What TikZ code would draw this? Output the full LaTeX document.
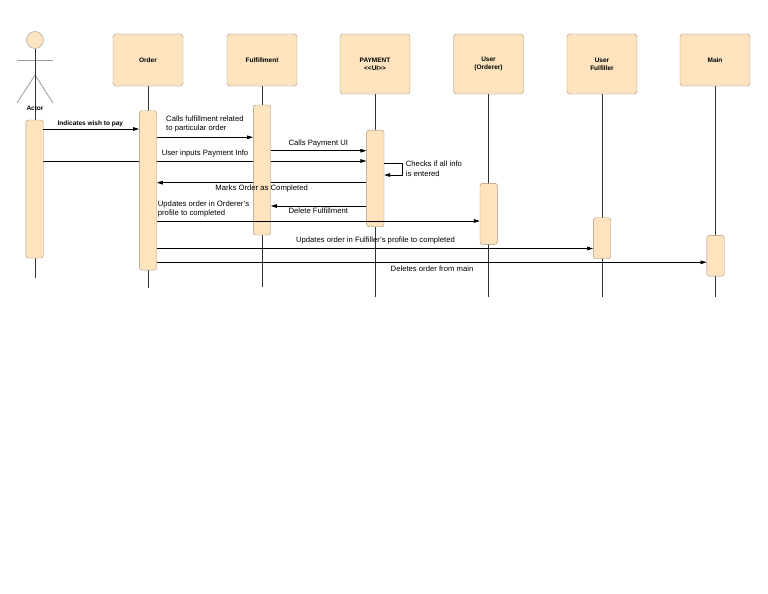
\documentclass[tikz,border=0pt]{standalone}
\usepackage{fontspec}
\setmainfont{Liberation Sans}
\usetikzlibrary{arrows.meta}
\definecolor{boxfill}{HTML}{FDE3BE}
\definecolor{boxline}{HTML}{A89274}
\definecolor{lifeline}{HTML}{333333}
\definecolor{stick}{HTML}{9A9A9A}
\pgfdeclarelayer{behind}
\pgfsetlayers{behind,main}

\begin{document}
\begin{tikzpicture}[x=1pt, y=-1pt,
  head/.style = {draw=boxline, fill=boxfill, rounded corners=3pt, minimum width=70pt, minimum height=52pt, inner sep=0pt, align=center, font=\fontsize{6.5}{8}\selectfont\bfseries},
  act/.style = {draw=boxline, fill=boxfill, rounded corners=2.5pt, minimum width=17.4pt, inner sep=0pt},
  life/.style = {draw=lifeline, line width=0.8pt},
  msg/.style = {-{Triangle[length=6pt,width=3.6pt]}, line width=0.7pt},
  lbl/.style = {inner sep=0pt, align=left, font=\fontsize{7.7}{9.5}\selectfont},
  blbl/.style = {inner sep=0pt, font=\fontsize{6.5}{8}\selectfont\bfseries}]
\useasboundingbox (0,0) rectangle (768,594);

\node [head] (order) at (148,60) {Order};
\node [head] (fulfil) at (262,60) {Fulfillment};
\node [head, minimum height=60pt] (pay) at (375,64) {PAYMENT\\{<}{<}UI{>}{>}};
\node [head, minimum height=60pt] (orderer) at (488.5,64) {User\\(Orderer)};
\node [head, minimum height=60pt] (fulfiller) at (602,64) {User\\Fulfiller};
\node [head] (main) at (715,60) {Main};

\node [draw=stick, fill=boxfill, circle, minimum size=17pt, inner sep=0pt] (actorhead) at (35,40) {};
\draw [stick, line width=0.8pt] (17,60.7) -- (53,60.7);
\draw [stick, line width=0.8pt] (17,103) -- (35,75) -- (53,103);
\draw [life] (actorhead.south) -- (35,277.7);
\node [blbl] (actor) at (35,108) {Actor};

\draw [life] (order.south) -- (order.south |- 0,288);
\draw [life] (fulfil.south) -- (fulfil.south |- 0,287);
\draw [life] (pay.south) -- (pay.south |- 0,296.7);
\draw [life] (orderer.south) -- (orderer.south |- 0,296.7);
\draw [life] (fulfiller.south) -- (fulfiller.south |- 0,296.7);
\draw [life] (main.south) -- (main.south |- 0,296.7);

\node [act, minimum height=138pt] (actActor) at (34.5,189) {};
\node [act, minimum height=159.3pt] (actOrder) at (148,190.4) {};
\node [act, minimum height=130pt] (actFulfil) at (262,170) {};
\node [act, minimum height=96.7pt] (actPay) at (375.3,178.4) {};
\node [act, minimum height=61pt] (actOrderer) at (488.7,213.8) {};
\node [act, minimum height=41pt] (actFulfiller) at (602,238.2) {};
\node [act, minimum height=40.7pt] (actMain) at (715.5,255.7) {};

\begin{pgfonlayer}{behind}
\draw [msg] (actActor.east |- 0,161) -- (actPay.west |- 0,161);
\draw [msg] (actPay.west |- 0,182.7) -- (actOrder.east |- 0,182.7);
\end{pgfonlayer}
\draw [msg] (actActor.east |- 0,129) -- (actOrder.west |- 0,129);
\draw [msg] (actOrder.east |- 0,137.3) -- (actFulfil.west |- 0,137.3);
\draw [msg] (actFulfil.east |- 0,150.7) -- (actPay.west |- 0,150.7);
\draw [msg] (actPay.east |- 0,163.3) -| (402.7,175) -- (actPay.east |- 0,175);
\draw [msg] (actPay.west |- 0,206) -- (actFulfil.east |- 0,206);
\draw [msg] (actOrder.east |- 0,221) -- (actOrderer.west |- 0,221);
\draw [msg] (actOrder.east |- 0,248.5) -- (actFulfiller.west |- 0,248.5);
\draw [msg] (actOrder.east |- 0,262.3) -- (actMain.west |- 0,262.3);

\node [blbl] (wish) at (90.3,124) {Indicates wish to pay};
\node [lbl, anchor=west] (callsFulfil) at (166,124.2) {Calls fulfillment related\\to particular order};
\node [lbl] (callsPay) at (318.3,143.3) {Calls Payment UI};
\node [lbl] (inputs) at (205,153.3) {User inputs Payment Info};
\node [lbl, anchor=west] (checks) at (405.7,168.5) {Checks if all info\\is entered};
\node [lbl] (marks) at (261.7,188.3) {Marks Order as Completed};
\node [lbl] (deleteFulfil) at (318.3,211) {Delete Fulfillment};
\node [lbl, anchor=west] (updOrderer) at (157.7,208.8) {Updates order in Orderer's\\profile to completed};
\node [lbl] (updFulfiller) at (375.5,240.7) {Updates order in Fulfiller's profile to completed};
\node [lbl] (deleteMain) at (432,268.3) {Deletes order from main};
\end{tikzpicture}
\end{document}
